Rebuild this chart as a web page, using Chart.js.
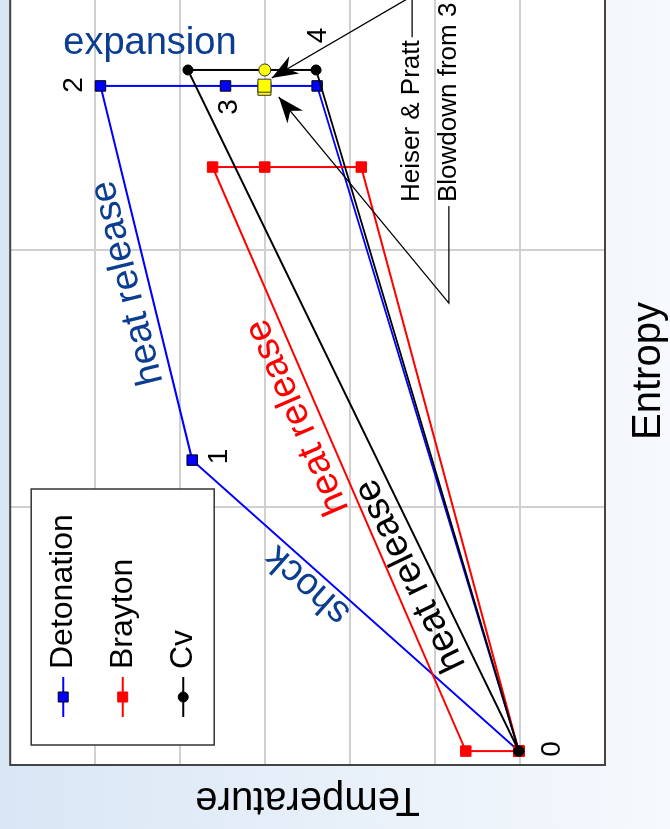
<!DOCTYPE html>
<html lang="en">
<head>
<meta charset="UTF-8">
<title>T-s diagram</title>
<style>
  html, body { margin: 0; padding: 0; }
  body { width: 670px; height: 829px; overflow: hidden; position: relative;
         background: linear-gradient(to right, #d9e6f5, #f6f9fd); }
  /* chart is drawn upright, then turned a quarter turn to the left */
  #ts { position: absolute; left: 0; top: 0; transform-origin: 0 0;
        transform: translateY(829px) rotate(-90deg); }
</style>
</head>
<body>
<canvas id="ts" width="870" height="670"></canvas>
<script src="https://cdn.jsdelivr.net/npm/chart.js@4"></script>
<script>
// states 0..4, entropy (arbitrary units) / temperature (K)
const detS = [0.054, 1.184, 2.637, 2.637, 2.637, 0.054];
const detT = [507, 2429, 2969, 2233, 1694, 507];
const braS = [0.054, 0.054, 2.322, 2.322, 2.322, 0.054];
const braT = [507, 819, 2309, 2002, 1434, 507];
const cvS = [0.054, 2.699, 2.699, 0.054];
const cvT = [507, 2454, 1700, 507];

// yellow reference points
const markS = [2.699, 2.626, 2.638];
const markT = [2002, 2004, 2004];

// state numbers
const stateName = ['0', '1', '2', '3', '4'];
const stateS = [0.062, 1.198, 2.641, 2.555, 2.833];
const stateT = [313, 2268, 3120, 2210, 1689];

// process labels
const procText = ['expansion', 'heat release', 'shock', 'heat release', 'heat release'];
const procS = [2.800, 1.872, 0.699, 1.351, 0.736];
const procT = [2678, 2809, 1750, 1809, 1144];

// notes with leader arrows
const noteText = ['Heiser & Pratt', 'Blowdown from 3'];
const noteS = [2.186, 2.186];
const noteT = [1135, 919];
const bendS = [2.986, 1.794];
const tipS = [2.668, 2.594];
const tipT = [1961, 1920];

const FONT = "'Liberation Sans', Arial, sans-serif";
const DARKBLUE = '#0b3d91';

const pts = (s, t) => s.map((v, i) => ({x: v, y: t[i]}));

const series = {
    det: pts(detS, detT),
    bra: pts(braS, braT),
    cv: pts(cvS, cvT)
};

// label styling: colour, and which segment the text runs along (null = upright)
const procColor = [DARKBLUE, DARKBLUE, DARKBLUE, '#ff0000', '#000000'];
const procAlong = [null, ['det', 1, 2], ['det', 0, 1], ['bra', 1, 2], ['cv', 0, 1]];

function arrowHead(ctx, fx, fy, tx, ty) {
    const a = Math.atan2(ty - fy, tx - fx);
    ctx.save();
    ctx.translate(tx, ty);
    ctx.rotate(a);
    ctx.beginPath();
    ctx.moveTo(0, 0);
    ctx.lineTo(-26, -10);
    ctx.lineTo(-18, 0);
    ctx.lineTo(-26, 10);
    ctx.closePath();
    ctx.fill();
    ctx.restore();
}

const extras = {
    id: 'extras',
    beforeDraw(chart) {
        const {ctx, chartArea: a} = chart;
        ctx.save();
        ctx.fillStyle = '#ffffff';
        ctx.fillRect(a.left, a.top, a.right - a.left, a.bottom - a.top);
        ctx.restore();
    },
    afterDraw(chart) {
        const {ctx, chartArea: a} = chart;
        const xs = chart.scales.x, ys = chart.scales.y;
        const px = s => xs.getPixelForValue(s);
        const py = t => ys.getPixelForValue(t);

        ctx.save();
        // frame
        ctx.strokeStyle = '#444';
        ctx.lineWidth = 2;
        ctx.strokeRect(a.left, a.top, a.right - a.left, a.bottom - a.top);

        ctx.textAlign = 'center';
        ctx.textBaseline = 'middle';

        // state numbers
        ctx.fillStyle = '#000';
        ctx.font = '28px ' + FONT;
        stateName.forEach((n, i) => ctx.fillText(n, px(stateS[i]), py(stateT[i])));

        // process labels
        ctx.font = '38px ' + FONT;
        procText.forEach((txt, i) => {
            let ang = Math.PI / 2;
            const seg = procAlong[i];
            if (seg) {
                const p0 = series[seg[0]][seg[1]], p1 = series[seg[0]][seg[2]];
                ang = Math.atan2(py(p1.y) - py(p0.y), px(p1.x) - px(p0.x));
            }
            ctx.save();
            ctx.translate(px(procS[i]), py(procT[i]));
            ctx.rotate(ang);
            ctx.fillStyle = procColor[i];
            ctx.fillText(txt, 0, 0);
            ctx.restore();
        });

        // notes
        ctx.font = '26px ' + FONT;
        ctx.textAlign = 'left';
        ctx.fillStyle = '#000';
        ctx.strokeStyle = '#000';
        ctx.lineWidth = 1.3;
        noteText.forEach((txt, i) => {
            const x0 = px(noteS[i]), y0 = py(noteT[i]);
            ctx.fillText(txt, x0, y0);
            const start = i === 0 ? x0 + ctx.measureText(txt).width + 3 : x0 - 4;
            const bx = px(bendS[i]);
            const tx = px(tipS[i]), ty = py(tipT[i]);
            ctx.beginPath();
            ctx.moveTo(start, y0);
            ctx.lineTo(bx, y0);
            ctx.lineTo(tx, ty);
            ctx.stroke();
            arrowHead(ctx, bx, y0, tx, ty);
        });

        // legend box
        const lx = a.left + 20, ly = a.top + 21;
        ctx.fillStyle = '#fff';
        ctx.fillRect(lx, ly, 256, 183);
        ctx.strokeStyle = '#333';
        ctx.lineWidth = 1.5;
        ctx.strokeRect(lx, ly, 256, 183);
        const rows = [53, 112.5, 173];
        ['det', 'bra', 'cv'].forEach((key, i) => {
            const ds = chart.data.datasets.find(d => d.key === key);
            const y = a.top + rows[i];
            const mx = a.left + 68;
            ctx.strokeStyle = ds.borderColor;
            ctx.lineWidth = 2;
            ctx.beginPath();
            ctx.moveTo(a.left + 48, y);
            ctx.lineTo(a.left + 88, y);
            ctx.stroke();
            ctx.fillStyle = ds.pointBackgroundColor;
            ctx.strokeStyle = ds.pointBorderColor;
            ctx.lineWidth = 1;
            ctx.beginPath();
            if (ds.pointStyle === 'circle') {
                ctx.arc(mx, y, ds.pointRadius, 0, Math.PI * 2);
            } else {
                ctx.rect(mx - 5, y - 5, 10, 10);
            }
            ctx.fill();
            ctx.stroke();
            ctx.fillStyle = '#000';
            ctx.font = '32px ' + FONT;
            ctx.fillText(ds.label, a.left + 96, y);
        });
        ctx.restore();
    }
};

new Chart(document.getElementById('ts'), {
    type: 'scatter',
    data: {
        datasets: [
            {
                key: 'mark', label: 'reference', data: pts(markS, markT), showLine: false,
                pointStyle: ['circle', 'rect', 'rect'], pointRadius: [6, 9.2, 9.2],
                pointBackgroundColor: '#ffff00', pointBorderColor: '#333', pointBorderWidth: 1,
                order: 0
            },
            {
                key: 'cv', label: 'Cv', data: series.cv, showLine: true,
                borderColor: '#000000', borderWidth: 2,
                pointStyle: 'circle', pointRadius: 5,
                pointBackgroundColor: '#000000', pointBorderColor: '#000000', pointBorderWidth: 1,
                order: 1
            },
            {
                key: 'bra', label: 'Brayton', data: series.bra, showLine: true,
                borderColor: '#ff0000', borderWidth: 2,
                pointStyle: 'rect', pointRadius: 7.4,
                pointBackgroundColor: '#ff0000', pointBorderColor: '#ff0000', pointBorderWidth: 1,
                order: 2
            },
            {
                key: 'det', label: 'Detonation', data: series.det, showLine: true,
                borderColor: '#0000ff', borderWidth: 2,
                pointStyle: 'rect', pointRadius: 7.4,
                pointBackgroundColor: '#0000ff', pointBorderColor: '#000000', pointBorderWidth: 1,
                order: 3
            }
        ]
    },
    options: {
        responsive: false,
        devicePixelRatio: 1,
        animation: false,
        layout: {padding: {left: 0, top: 6, right: 18, bottom: 0}},
        plugins: {legend: {display: false}, tooltip: {enabled: false}},
        scales: {
            x: {
                type: 'linear', min: 0, max: 3.06,
                ticks: {display: false, stepSize: 1},
                grid: {color: '#d0d0d0', lineWidth: 2, drawTicks: false},
                border: {display: false},
                title: {display: true, text: 'Entropy', color: '#000',
                        font: {family: FONT, size: 40, lineHeight: 1},
                        padding: {top: 24, bottom: 1}}
            },
            y: {
                type: 'linear', min: 0, max: 3500,
                ticks: {display: false, stepSize: 500},
                grid: {color: '#d0d0d0', lineWidth: 2, drawTicks: false},
                border: {display: false},
                title: {display: true, text: 'Temperature', color: '#000',
                        font: {family: FONT, size: 40, lineHeight: 1},
                        padding: {top: 10, bottom: 14}}
            }
        }
    },
    plugins: [extras]
});
</script>
</body>
</html>
